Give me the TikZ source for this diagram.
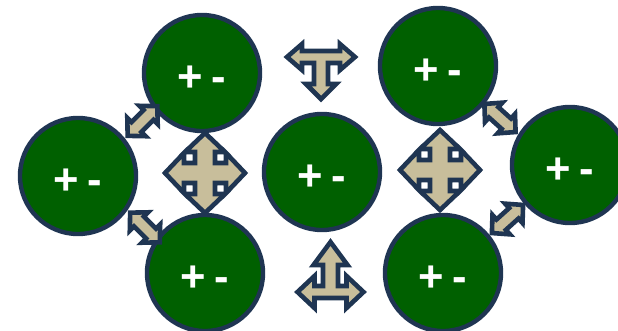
\documentclass[tikz,border=0pt]{standalone}
\usepackage{fontspec}
\setmainfont{Liberation Sans}
\newfontfamily\signfont{Liberation Sans}[WordSpace=0.7]
\definecolor{cellgreen}{RGB}{0,96,0}
\definecolor{rimnavy}{RGB}{31,53,82}
\definecolor{arrowtan}{RGB}{200,190,155}

\begin{document}
\begin{tikzpicture}[x=0.025cm, y=-0.025cm]
  \tikzset{
      cell/.style={circle, draw=rimnavy, fill=cellgreen, line width=0.11cm, minimum size=2.9cm, inner sep=0pt, text=white, font=\signfont\fontsize{31}{36}\selectfont\bfseries, text height=26pt, text depth=0pt},
      flow/.style={draw=rimnavy, fill=arrowtan, line width=0.115cm, line join=miter},
      pics/twoway/.style={code={
          \draw[flow] (-21,0) -- (-8.5,-13) -- (-8.5,-7) -- (8.5,-7) -- (8.5,-13) -- (21,0) -- (8.5,13) -- (8.5,7) -- (-8.5,7) -- (-8.5,13) -- cycle;
      }},
      pics/fourway/.style={code={
          \draw[flow] (0,-40) -- (20,-21) -- (10,-21) -- (10,-10) -- (21,-10) -- (21,-20) -- (40,0) -- (21,20) -- (21,10) -- (10,10) -- (10,21) -- (20,21) -- (0,40)
                   -- (-20,21) -- (-10,21) -- (-10,10) -- (-21,10) -- (-21,20) -- (-40,0) -- (-21,-20) -- (-21,-10) -- (-10,-10) -- (-10,-21) -- (-20,-21) -- cycle;
      }}
  }
  \useasboundingbox (0,0) rectangle (618,330);
  \clip (0,0) rectangle (618,330);

  % cells
  \node[cell] (leftcell)     at (78,176)  {+ -};
  \node[cell] (topleftcell)  at (202,73)  {+ -};
  \node[cell] (botleftcell)  at (205,273) {+ -};
  \node[cell] (midcell)      at (322,172) {+ -};
  \node[cell] (toprightcell) at (438,66)  {+ -};
  \node[cell] (botrightcell) at (443,273) {+ -};
  \node[cell] (rightcell)    at (570,165) {+ -};

  % four-way arrows
  \pic at (205,173) {fourway};
  \pic at (440,170) {fourway};

  % two-way diagonal arrows
  \pic[rotate=45]  at (142.5,121) {twoway};
  \pic[rotate=-45] at (145,227.5) {twoway};
  \pic[rotate=-42] at (500,118)   {twoway};
  \pic[rotate=42]  at (507.5,219) {twoway};

  % three-way arrows
  \begin{scope}[shift={(321,57)}]
      \draw[flow] (-34,0) -- (-19,-13) -- (-19,-6) -- (19,-6) -- (19,-13) -- (34,0) -- (19,13) -- (19,6) -- (7,6) -- (7,27) -- (15,27) -- (0,42)
               -- (-15,27) -- (-7,27) -- (-7,6) -- (-19,6) -- (-19,13) -- cycle;
  \end{scope}
  \begin{scope}[shift={(330.5,292)}]
      \draw[flow] (-33,0) -- (-16,-16) -- (-16,-6) -- (-7.5,-6) -- (-7.5,-27) -- (-17,-27) -- (0,-50) -- (17,-27) -- (7.5,-27) -- (7.5,-6) -- (16,-6) -- (16,-16) -- (33,0)
               -- (16,16) -- (16,6) -- (-16,6) -- (-16,16) -- cycle;
  \end{scope}
\end{tikzpicture}
\end{document}
